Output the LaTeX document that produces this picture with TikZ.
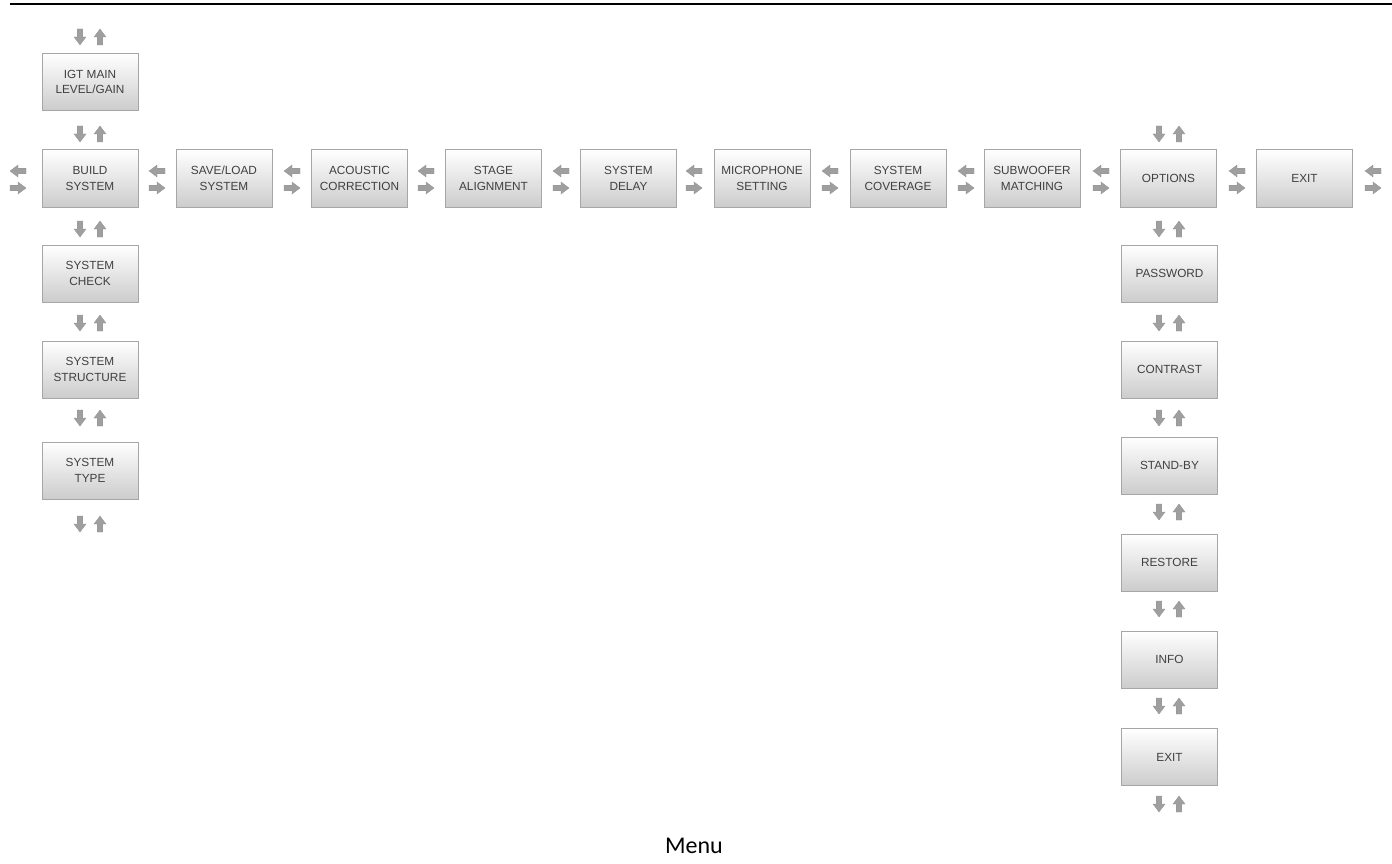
\documentclass[tikz,border=0pt]{standalone}
\usepackage{fontspec}
\setmainfont{Liberation Sans}
\newfontfamily\menufont{Carlito}
\begin{document}
\begin{tikzpicture}[x=1pt,y=-1pt,
  menubox/.style={draw=gray!70,line width=1pt,shading angle=30,bottom color=gray!40,middle color=white!97!gray,top color=white,
    minimum width=96pt,minimum height=57pt,inner sep=0pt,align=center,
    font=\fontsize{11.8}{15.5}\selectfont,text=black!75},
  arrfill/.style={fill=gray!75,draw=gray!85,line width=0.3pt},
  dnarrow/.pic={\path[arrfill] (-2.8,-8) -- (2.8,-8) -- (2.8,0) -- (6,0) -- (0,8) -- (-6,0) -- (-2.8,0) -- cycle;},
  uparrow/.pic={\path[arrfill] (-2.8,8) -- (2.8,8) -- (2.8,0) -- (6,0) -- (0,-8) -- (-6,0) -- (-2.8,0) -- cycle;},
  lfarrow/.pic={\path[arrfill] (8,-2.8) -- (8,2.8) -- (0,2.8) -- (0,6) -- (-8,0) -- (0,-6) -- (0,-2.8) -- cycle;},
  rtarrow/.pic={\path[arrfill] (-8,-2.8) -- (-8,2.8) -- (0,2.8) -- (0,6) -- (8,0) -- (0,-6) -- (0,-2.8) -- cycle;}
]
\useasboundingbox (0,0) rectangle (1392,864);
\draw[line width=2.2pt] (10,4) -- (1392,4);
% left column
\node[menubox] (igt) at (90,82) {IGT MAIN\\LEVEL/GAIN};
\node[menubox] (build) at (90,178.5) {BUILD\\SYSTEM};
\node[menubox] (check) at (90,273.5) {SYSTEM\\CHECK};
\node[menubox] (struct) at (90,369.5) {SYSTEM\\STRUCTURE};
\node[menubox] (type) at (90,470.5) {SYSTEM\\TYPE};
% row
\node[menubox] (save) at (224,178.5) {SAVE/LOAD\\SYSTEM};
\node[menubox] (acou) at (359.5,178.5) {ACOUSTIC\\CORRECTION};
\node[menubox] (stage) at (493.5,178.5) {STAGE\\ALIGNMENT};
\node[menubox] (delay) at (628.5,178.5) {SYSTEM\\DELAY};
\node[menubox] (mic) at (762,178.5) {MICROPHONE\\SETTING};
\node[menubox] (cov) at (898,178.5) {SYSTEM\\COVERAGE};
\node[menubox] (sub) at (1032,178.5) {SUBWOOFER\\MATCHING};
\node[menubox] (opt) at (1168.5,178.5) {OPTIONS};
\node[menubox] (exit1) at (1304.5,178.5) {EXIT};
% right column
\node[menubox] (pass) at (1169.5,273.5) {PASSWORD};
\node[menubox] (contr) at (1169.5,369.5) {CONTRAST};
\node[menubox] (stand) at (1169.5,465.5) {STAND-BY};
\node[menubox] (rest) at (1169.5,562.5) {RESTORE};
\node[menubox] (info) at (1169.5,659.5) {INFO};
\node[menubox] (exit2) at (1169.5,757) {EXIT};
% vertical arrow pairs, left column
\foreach \y in {37,134,229,323,418,524}{
  \pic at (80,\y) {dnarrow};
  \pic at (100,\y) {uparrow};
}
% vertical arrow pairs, right column
\foreach \y in {134,229,323,418,512,609,706,804}{
  \pic at (1159,\y) {dnarrow};
  \pic at (1179,\y) {uparrow};
}
% horizontal arrow pairs
\foreach \x in {18,157,292,426,561,694,830,966,1101,1237,1373}{
  \pic at (\x,171) {lfarrow};
  \pic at (\x,188) {rtarrow};
}
\node[font=\menufont\fontsize{24}{26}\selectfont] (menu) at (694,846) {Menu};
\end{tikzpicture}
\end{document}
